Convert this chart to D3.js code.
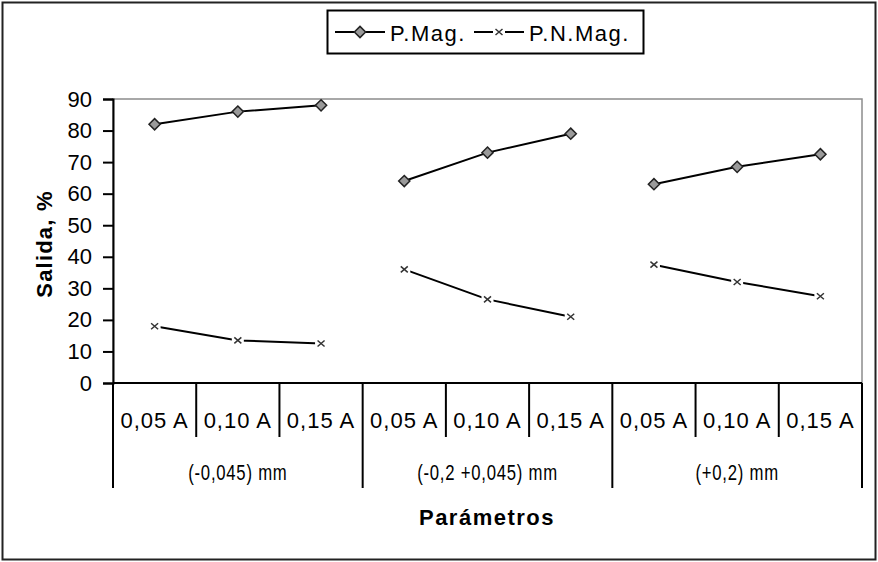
<!DOCTYPE html>
<html>
<head>
<meta charset="utf-8">
<script src="https://cdn.jsdelivr.net/npm/d3@7"></script>
<style>
  html, body { margin: 0; padding: 0; background: #fff; }
  svg { display: block; }
  text { font-family: "Liberation Sans", Arial, sans-serif; fill: #000; }
</style>
</head>
<body>
<svg id="chart" width="878" height="562"></svg>
<script>
// Outer groups (size fractions) and inner categories (current)
const groups = ["(-0,045) mm", "(-0,2 +0,045) mm", "(+0,2) mm"];
const currents = ["0,05 A", "0,10 A", "0,15 A"];

// Yield (%) per series, in order group × current
const pMag  = [82, 86, 88, 64, 73, 79, 63, 68.5, 72.5];
const pNMag = [18, 13.5, 12.5, 36, 26.5, 21, 37.5, 32, 27.5];

const seriesNames = ["P.Mag.", "P.N.Mag."];
const yTicks = [0, 10, 20, 30, 40, 50, 60, 70, 80, 90];

const svg = d3.select("#chart");
const W = 878, H = 562;
const plot = { left: 113, right: 862, top: 99, bottom: 383 };
const FS = "22px";

// Outer frame
svg.append("rect")
  .attr("x", 2.5).attr("y", 2.5)
  .attr("width", W - 5).attr("height", H - 5)
  .attr("fill", "#fff").attr("stroke", "#222").attr("stroke-width", 2);

// Flat list of (group, current) keys
const keys = [];
groups.forEach((g, gi) => currents.forEach((c, ci) => keys.push({ g, gi, c, ci, i: gi * currents.length + ci })));

const x = d3.scaleBand().domain(keys.map(k => k.i)).range([plot.left, plot.right]).padding(0);
const y = d3.scaleLinear().domain([0, 90]).range([plot.bottom, plot.top]);

// Plot area border (grey top/right)
svg.append("rect")
  .attr("x", plot.left).attr("y", plot.top)
  .attr("width", plot.right - plot.left).attr("height", plot.bottom - plot.top)
  .attr("fill", "#fff").attr("stroke", "#8c8c8c").attr("stroke-width", 1.5);

// Y axis
const yAxis = d3.axisLeft(y).tickValues(yTicks).tickSize(10).tickPadding(11);
const gy = svg.append("g").attr("transform", `translate(${plot.left},0)`).call(yAxis);
gy.select(".domain").attr("stroke", "#000").attr("stroke-width", 2);
gy.selectAll(".tick line").attr("stroke", "#000").attr("stroke-width", 2);
gy.selectAll(".tick text")
  .style("font-family", "'Liberation Sans', Arial, sans-serif")
  .style("font-size", FS).attr("fill", "#000");

// Category axis line
svg.append("line")
  .attr("x1", plot.left).attr("x2", plot.right)
  .attr("y1", plot.bottom).attr("y2", plot.bottom)
  .attr("stroke", "#000").attr("stroke-width", 2);

// Category separators; group edges run down through the second label row
const catBounds = d3.range(keys.length + 1).map(i => i === keys.length ? plot.right : x(i));
catBounds.forEach((bx, i) => {
  const isGroupEdge = i % currents.length === 0;
  svg.append("line")
    .attr("x1", bx).attr("x2", bx)
    .attr("y1", plot.bottom).attr("y2", isGroupEdge ? 488 : 437)
    .attr("stroke", "#000").attr("stroke-width", 2);
});

// Current labels
svg.append("g").selectAll("text").data(keys).join("text")
  .attr("x", k => x(k.i) + x.bandwidth() / 2)
  .attr("y", 420)
  .attr("text-anchor", "middle")
  .attr("dominant-baseline", "central")
  .style("font-size", FS)
  .style("letter-spacing", "1px")
  .text(k => k.c);

// Group labels (condensed)
svg.append("g").selectAll("text").data(groups).join("text")
  .attr("transform", (g, gi) => {
    const cx = (x(gi * 3) + (gi === groups.length - 1 ? plot.right : x(gi * 3 + 3))) / 2;
    return `translate(${cx},472) scale(0.76,1)`;
  })
  .attr("text-anchor", "middle")
  .attr("dominant-baseline", "central")
  .style("font-size", FS)
  .style("letter-spacing", "1px")
  .text(g => g);

// Axis titles
svg.append("text")
  .attr("x", 487).attr("y", 517)
  .attr("text-anchor", "middle").attr("dominant-baseline", "central")
  .style("font-size", FS).style("font-weight", "bold").style("letter-spacing", "1.5px")
  .text("Parámetros");

svg.append("text")
  .attr("transform", `translate(44,${(plot.top + plot.bottom) / 2 + 3}) rotate(-90)`)
  .attr("text-anchor", "middle").attr("dominant-baseline", "central")
  .style("font-size", FS).style("font-weight", "bold").style("letter-spacing", "1.2px")
  .text("Salida, %");

// Markers
const diamond = d3.symbol().type(d3.symbolDiamond2).size(80);
function drawDiamond(sel) {
  sel.append("path").attr("d", diamond).attr("fill", "#9a9a9a").attr("stroke", "#222").attr("stroke-width", 1.5);
}
function drawCross(sel) {
  sel.append("rect").attr("x", -6).attr("y", -6).attr("width", 12).attr("height", 12).attr("fill", "#fff");
  sel.append("path").attr("d", "M-3.5,-3 L3.5,3 M-3.5,3 L3.5,-3").attr("stroke", "#333").attr("stroke-width", 1.5).attr("fill", "none");
}

const line = d3.line().x(d => x(d.i) + x.bandwidth() / 2).y(d => y(d.v));

function drawSeries(values, markerFn) {
  const pts = keys.map(k => ({ i: k.i, gi: k.gi, v: values[k.i] }));
  groups.forEach((g, gi) => {
    const seg = pts.filter(p => p.gi === gi);
    svg.append("path").datum(seg).attr("d", line)
      .attr("fill", "none").attr("stroke", "#000").attr("stroke-width", 2);
  });
  svg.append("g").selectAll("g").data(pts).join("g")
    .attr("transform", p => `translate(${x(p.i) + x.bandwidth() / 2},${y(p.v)})`)
    .each(function () { markerFn(d3.select(this)); });
}
drawSeries(pMag, drawDiamond);
drawSeries(pNMag, drawCross);

// Legend
const lg = svg.append("g");
lg.append("rect").attr("x", 327.5).attr("y", 10.5).attr("width", 316).attr("height", 43)
  .attr("fill", "#fff").attr("stroke", "#000").attr("stroke-width", 2);
const legendItems = [
  { name: seriesNames[0], x0: 335, marker: drawDiamond },
  { name: seriesNames[1], x0: 474, marker: drawCross }
];
legendItems.forEach(it => {
  const g = lg.append("g");
  g.append("line").attr("x1", it.x0).attr("x2", it.x0 + 50).attr("y1", 32).attr("y2", 32)
    .attr("stroke", "#000").attr("stroke-width", 2);
  const m = g.append("g").attr("transform", `translate(${it.x0 + 25},32)`);
  it.marker(m);
  g.append("text").attr("x", it.x0 + 55).attr("y", 33)
    .attr("dominant-baseline", "central")
    .style("font-size", FS).style("letter-spacing", "1.5px")
    .text(it.name);
});
</script>
</body>
</html>
